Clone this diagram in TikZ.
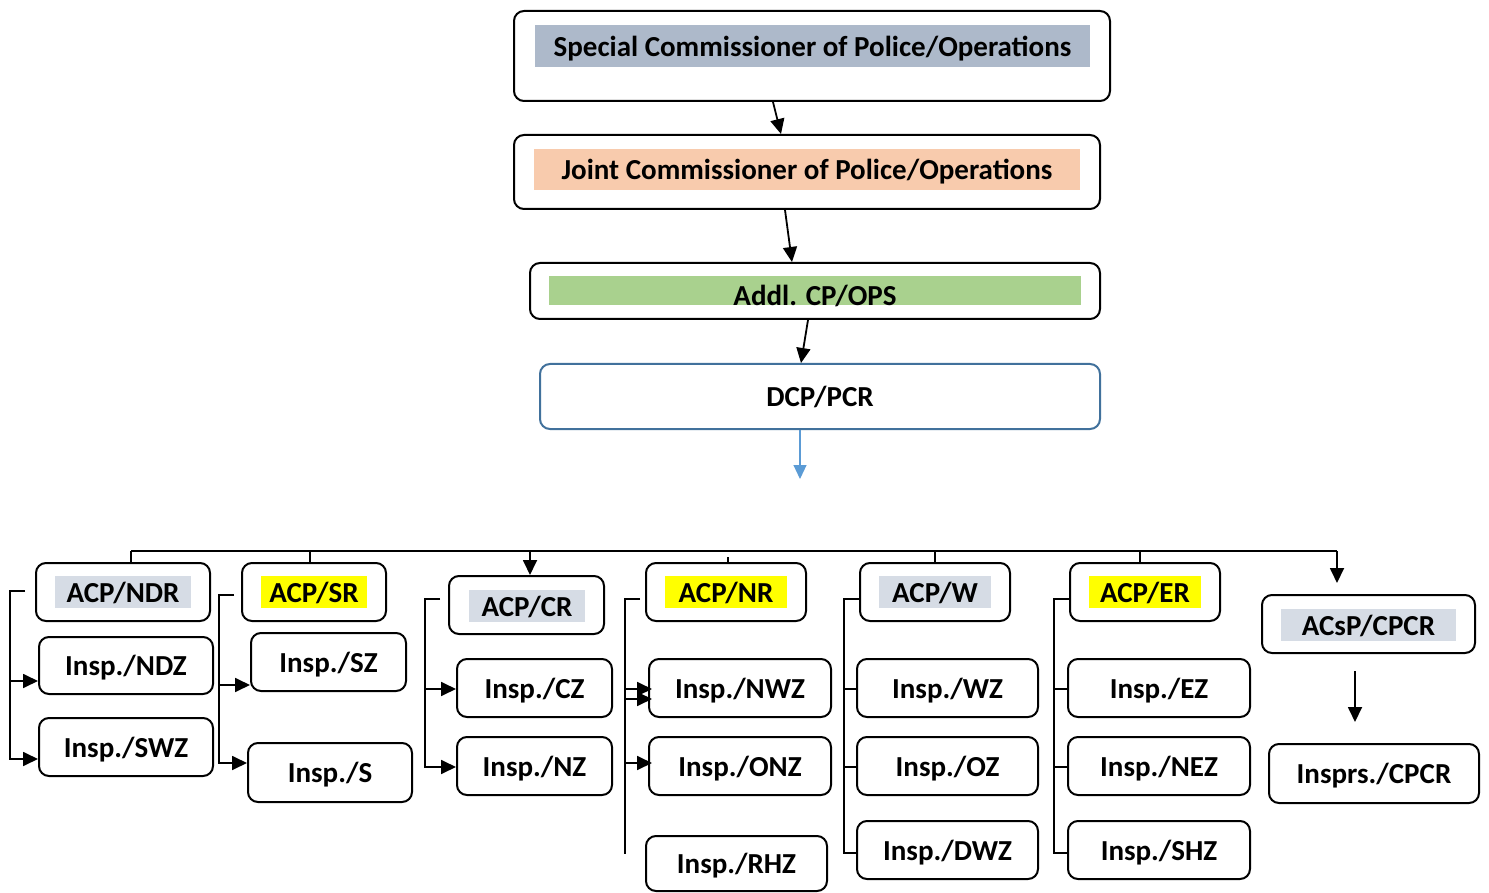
\documentclass[tikz,border=0pt]{standalone}
\usepackage{fontspec}
\setmainfont{Carlito}
\usetikzlibrary{arrows.meta}
\definecolor{spcfill}{HTML}{ADB9CA}
\definecolor{jcpfill}{HTML}{F8CBAD}
\definecolor{acpfill}{HTML}{A9D18E}
\definecolor{grayhl}{HTML}{D6DCE5}
\definecolor{yellowhl}{HTML}{FFFF00}
\definecolor{dcpborder}{HTML}{41719C}
\definecolor{bluearrow}{HTML}{5B9BD5}
\tikzset{
  txt/.style={font=\bfseries\fontsize{29}{34}\selectfont, text depth=0pt},
  box/.style={draw, line width=2pt, rounded corners=10pt, inner sep=0pt, txt},
  hl/.style={inner sep=0pt, txt, fill=#1},
  wh/.style 2 args={minimum width=#1pt, minimum height=#2pt},
  ln/.style={line width=1.8pt},
  arr/.style={line width=1.8pt, -{Triangle[length=15pt,width=14pt]}},
}
\begin{document}
\begin{tikzpicture}[x=1pt,y=-1pt]
\useasboundingbox (0,0) rectangle (1489,893);
\fill[white] (0,0) rectangle (1489,893);

% ---- top chain ----
\node[box, wh={596}{90}] (spc) at (812,56) {};
\node[hl=spcfill, wh={555}{42}] (spcT) at (812.5,46) {Special Commissioner of Police/Operations};

\node[box, wh={586}{74}] (jcp) at (807,172) {};
\node[hl=jcpfill, wh={546}{41}] (jcpT) at (807,169.5) {Joint Commissioner of Police/Operations};

\node[box, wh={570}{56}] (acp) at (815,291) {};
\node[hl=acpfill, wh={532}{29}] (acpH) at (815,290.5) {};
\node[txt, inner sep=0pt] (acpT) at (815,295) {Addl. CP/OPS};

\node[box, draw=dcpborder, wh={560}{65}] (dcp) at (820,396.5) {DCP/PCR};

\draw[arr] ([xshift=-39pt]spc.south) -- ([xshift=-26pt]jcp.north);
\draw[arr] ([xshift=-22pt]jcp.south) -- ([xshift=-23pt]acp.north);
\draw[arr] ([xshift=-7pt]acp.south) -- ([xshift=-19pt]dcp.north);
\coordinate (dcpOut) at (800,479);
\draw[line width=1.2pt, draw=bluearrow, -{Triangle[length=14pt,width=13pt]}, bluearrow] ([xshift=-20pt]dcp.south) -- (dcpOut);

% ---- bottom boxes ----
\node[box, wh={174}{58}] (ndr) at (123,592) {};
\node[hl=grayhl, wh={136}{32}] (ndrT) at (123,592) {ACP/NDR};
\node[box, wh={174}{57}] (ndz) at (126,665.5) {Insp./NDZ};
\node[box, wh={174}{58}] (swz) at (126,747) {Insp./SWZ};

\node[box, wh={144}{58}] (sr) at (314,592) {};
\node[hl=yellowhl, wh={106}{32}] (srT) at (314,592) {ACP/SR};
\node[box, wh={155}{58}] (sz) at (328.5,662) {Insp./SZ};
\node[box, wh={164}{59}] (s) at (330,772.5) {Insp./S};

\node[box, wh={155}{58}] (cr) at (526.5,605) {};
\node[hl=grayhl, wh={116}{32}] (crT) at (527,606) {ACP/CR};
\node[box, wh={155}{58}] (cz) at (534.5,688) {Insp./CZ};
\node[box, wh={155}{58}] (nz) at (534.5,766) {Insp./NZ};

\node[box, wh={160}{58}] (nr) at (726,592) {};
\node[hl=yellowhl, wh={122}{32}] (nrT) at (726,592) {ACP/NR};
\node[box, wh={182}{58}] (nwz) at (740,688) {Insp./NWZ};
\node[box, wh={182}{58}] (onz) at (740,766) {Insp./ONZ};
\node[box, wh={181}{55}] (rhz) at (736.5,863.5) {Insp./RHZ};

\node[box, wh={150}{58}] (w) at (935,592) {};
\node[hl=grayhl, wh={112}{32}] (wT) at (935,592) {ACP/W};
\node[box, wh={181}{58}] (wz) at (947.5,688) {Insp./WZ};
\node[box, wh={181}{58}] (oz) at (947.5,766) {Insp./OZ};
\node[box, wh={181}{58}] (dwz) at (947.5,850) {Insp./DWZ};

\node[box, wh={150}{58}] (er) at (1145,592) {};
\node[hl=yellowhl, wh={112}{32}] (erT) at (1145,592) {ACP/ER};
\node[box, wh={182}{58}] (ez) at (1159,688) {Insp./EZ};
\node[box, wh={182}{58}] (nez) at (1159,766) {Insp./NEZ};
\node[box, wh={182}{58}] (shz) at (1159,850) {Insp./SHZ};

\node[box, wh={213}{58}] (cpcr) at (1368.5,624) {};
\node[hl=grayhl, wh={175}{32}] (cpcrT) at (1368.5,625) {ACsP/CPCR};
\node[box, wh={210}{59}] (insprs) at (1374,773.5) {Insprs./CPCR};

% ---- bus ----
\coordinate (busL) at (131,551);
\coordinate (busR) at (1337,551);
\draw[line width=1.6pt] (busL) -- (busR);
\draw[ln] (busL) -- (busL |- ndr.north);
\draw[ln] ([xshift=-4pt]sr.north) -- ([xshift=-4pt]sr.north |- busL);
\draw[arr] ([xshift=3.5pt]cr.north |- busL) -- ([xshift=3.5pt]cr.north);
\draw[line width=1.2pt] ([xshift=2pt]nr.north) -- ++(0,-5);
\draw[ln] (w.north) -- (w.north |- busL);
\draw[ln] ([xshift=-5pt]er.north) -- ([xshift=-5pt]er.north |- busL);
\coordinate (cpcrIn) at (1337,583);
\draw[arr] (busR) -- (cpcrIn);

% ---- brackets ----
% NDR
\coordinate (ndrX) at (10,0);
\coordinate (ndrS) at ([xshift=-10pt,yshift=1pt]ndr.west);
\coordinate (ndzIn) at ([yshift=-15.5pt]ndz.west);
\coordinate (swzIn) at ([yshift=-12pt]swz.west);
\draw[arr] (ndrS) -- (ndrX |- ndrS) |- (swzIn);
\draw[arr] (ndrX |- ndzIn) -- (ndzIn);
% SR
\coordinate (srX) at (219,0);
\coordinate (srS) at ([xshift=-7pt,yshift=-3pt]sr.west);
\coordinate (szIn) at ([yshift=-23pt]sz.west);
\coordinate (sIn) at ([yshift=9.5pt]s.west);
\draw[arr] (srS) -- (srX |- srS) |- (sIn);
\draw[arr] (srX |- szIn) -- (szIn);
% CR
\coordinate (crX) at (425,0);
\coordinate (crS) at ([xshift=-8pt,yshift=6pt]cr.west);
\coordinate (czIn) at ([yshift=-1pt]cz.west);
\coordinate (nzIn) at ([yshift=-1pt]nz.west);
\draw[arr] (crS) -- (crX |- crS) |- (nzIn);
\draw[arr] (crX |- czIn) -- (czIn);
% NR
\coordinate (nrX) at (625,0);
\coordinate (nrS) at ([xshift=-5pt,yshift=-7pt]nr.west);
\coordinate (nrEnd) at (625,854);
\coordinate (nwzInA) at ([xshift=4pt,yshift=-1pt]nwz.west);
\coordinate (nwzInB) at ([xshift=4pt,yshift=-11pt]nwz.west);
\coordinate (onzIn) at ([xshift=4pt,yshift=3pt]onz.west);
\draw[ln] (nrS) -- (nrX |- nrS) -- (nrEnd);
\draw[arr] (nrX |- nwzInA) -- (nwzInA);
\draw[arr] (nrX |- nwzInB) -- (nwzInB);
\draw[arr] (nrX |- onzIn) -- (onzIn);
% W
\coordinate (wX) at (844,0);
\coordinate (wS) at ([yshift=-7pt]w.west);
\coordinate (wzIn) at ([yshift=-1pt]wz.west);
\coordinate (ozIn) at ([yshift=-1pt]oz.west);
\coordinate (dwzIn) at ([yshift=-3pt]dwz.west);
\draw[ln] (wS) -- (wX |- wS) |- (dwzIn);
\draw[ln] (wX |- wzIn) -- (wzIn);
\draw[ln] (wX |- ozIn) -- (ozIn);
% ER
\coordinate (erX) at (1054,0);
\coordinate (erS) at ([yshift=-7pt]er.west);
\coordinate (ezIn) at ([yshift=-1pt]ez.west);
\coordinate (nezIn) at ([yshift=-1pt]nez.west);
\coordinate (shzIn) at ([yshift=-3pt]shz.west);
\draw[ln] (erS) -- (erX |- erS) |- (shzIn);
\draw[ln] (erX |- ezIn) -- (ezIn);
\draw[ln] (erX |- nezIn) -- (nezIn);
% CPCR
\draw[arr] ([xshift=-13.5pt,yshift=-17pt]cpcr.south) -- ([xshift=-19pt,yshift=21pt]insprs.north);
\end{tikzpicture}
\end{document}
